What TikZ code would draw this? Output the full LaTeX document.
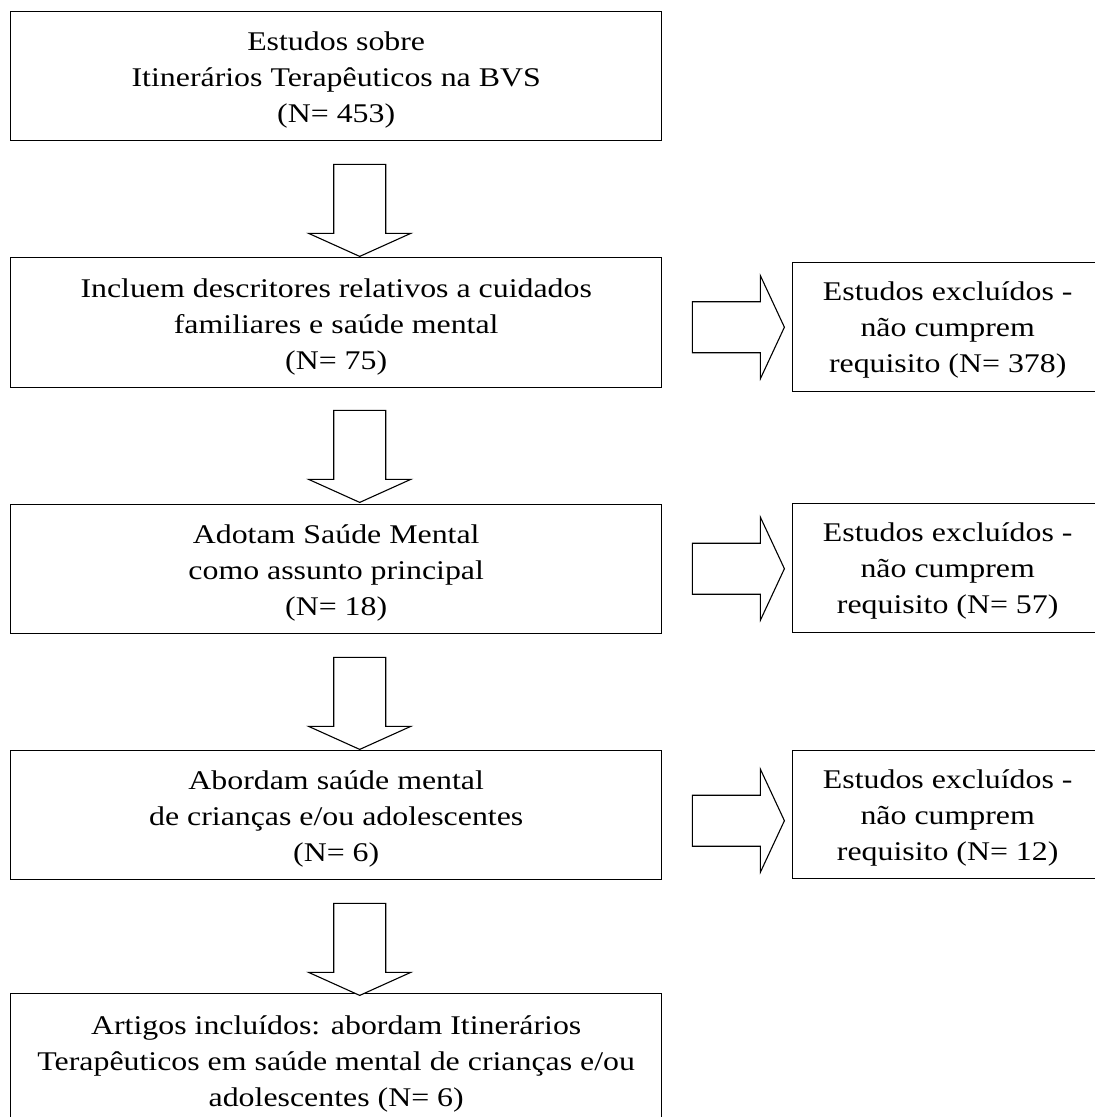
\documentclass[tikz,border=0pt]{standalone}
\usepackage{fontspec}
\setmainfont{Liberation Serif}[FakeStretch=1.18]
\usetikzlibrary{calc}

\begin{document}

\begin{tikzpicture}[x=1pt,y=-1pt,
  box/.style={draw, line width=1.4pt, anchor=north west, inner sep=0pt},
  txt/.style={align=center, font=\fontsize{27}{36}\selectfont, inner sep=0pt},
  blockarrow/.style={draw, line width=1.1pt, fill=white, line join=miter},
  downarr/.pic={\draw[blockarrow] (-26,0) -- (26,0) -- (26,69) -- (51,69) -- (0,92) -- (-51,69) -- (-26,69) -- cycle;},
  rightarr/.pic={\draw[blockarrow] (0,26) -- (68,26) -- (68,0) -- (92,51.5) -- (68,103) -- (68,77) -- (0,77) -- cycle;}]
\useasboundingbox (0,0) rectangle (1095,1117);
\clip (0,0) rectangle (1095,1117);
\fill[white] (0,0) rectangle (1095,1117);
% main boxes
\node[box, minimum width=651pt, minimum height=129pt] (b1) at (10,11) {};
\node[box, minimum width=651pt, minimum height=130pt] (b2) at (10,257) {};
\node[box, minimum width=651pt, minimum height=129pt] (b3) at (10,504) {};
\node[box, minimum width=651pt, minimum height=129pt] (b4) at (10,750) {};
\node[box, minimum width=651pt, minimum height=135pt] (b5) at (10,993) {};
% side boxes
\node[box, minimum width=310pt, minimum height=129pt] (r1) at (792,262) {};
\node[box, minimum width=310pt, minimum height=129pt] (r2) at (792,503) {};
\node[box, minimum width=310pt, minimum height=128pt] (r3) at (792,750) {};
% texts
\node[txt] (t1) at ([yshift=-4pt]b1.center) {Estudos sobre\\Itinerários Terapêuticos na BVS\\(N= 453)};
\node[txt] (t2) at ([yshift=-4pt]b2.center) {Incluem descritores relativos a cuidados\\familiares e saúde mental\\(N= 75)};
\node[txt] (t3) at ([yshift=-4pt]b3.center) {Adotam Saúde Mental\\como assunto principal\\(N= 18)};
\node[txt] (t4) at ([yshift=-4pt]b4.center) {Abordam saúde mental\\de crianças e/ou adolescentes\\(N= 6)};
\node[txt] (t5) at ([yshift=-3pt]b5.center) {Artigos incluídos: abordam Itinerários\\Terapêuticos em saúde mental de crianças e/ou\\adolescentes (N= 6)};
\node[txt] (s1) at ([yshift=-3pt]r1.center) {Estudos excluídos -\\não cumprem\\requisito (N= 378)};
\node[txt] (s2) at ([yshift=-3pt]r2.center) {Estudos excluídos -\\não cumprem\\requisito (N= 57)};
\node[txt] (s3) at ([yshift=-3pt]r3.center) {Estudos excluídos -\\não cumprem\\requisito (N= 12)};
% down arrows
\path ($(b1.south)+(23.5,23)$) pic {downarr};
\path ($(b2.south)+(23.5,22)$) pic {downarr};
\path ($(b3.south)+(23.5,23)$) pic {downarr};
\path ($(b4.south)+(23.5,23)$) pic {downarr};
% right arrows
\path ($(b2.east)+(30,-47)$) pic {rightarr};
\path ($(b3.east)+(30,-52)$) pic {rightarr};
\path ($(b4.east)+(30,-46)$) pic {rightarr};
\end{tikzpicture}

\end{document}
